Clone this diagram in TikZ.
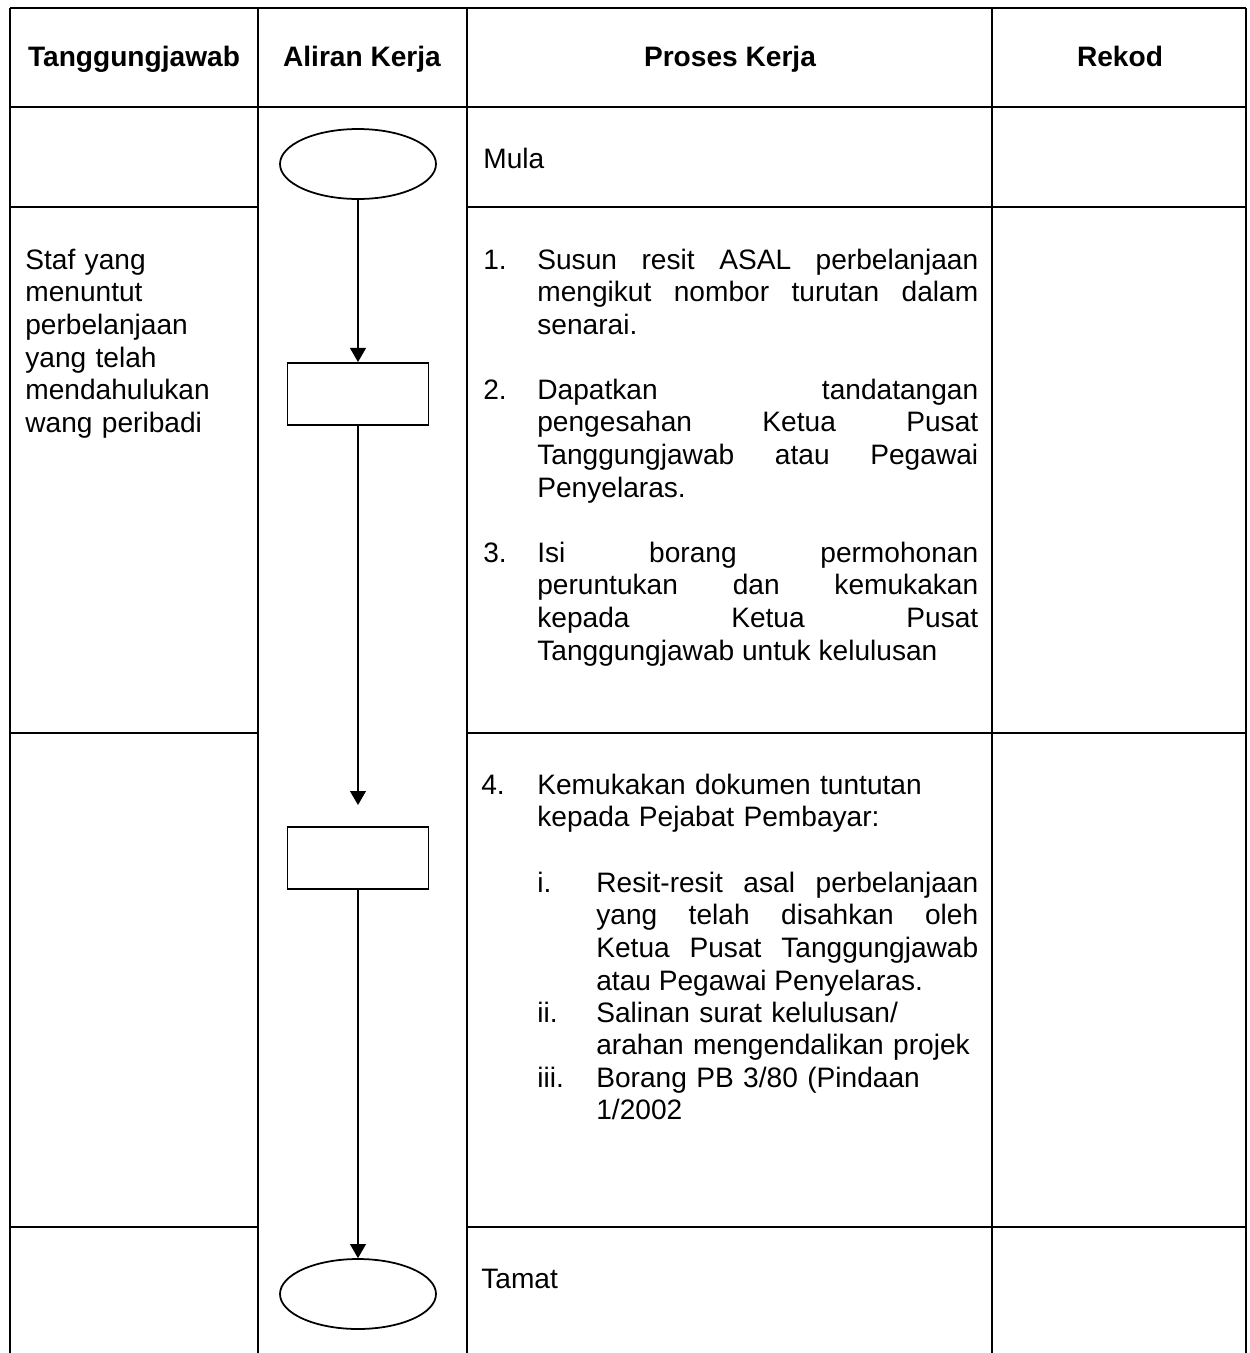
\documentclass[tikz,border=0pt]{standalone}
\usepackage{fontspec}
\setmainfont{Liberation Sans}
\usetikzlibrary{positioning,shapes.geometric,arrows.meta}

\newcommand{\cellfont}{\fontsize{16}{18.6}\selectfont\hyphenpenalty=10000\tolerance=10000\hbadness=10000}

\begin{document}
\begin{tikzpicture}[
    x=0.02cm, y=-0.02cm,
    grid/.style={
        line width=1.1pt
    },
    terminal/.style={
        ellipse,
        draw=black,
        line width=1pt,
        minimum width=3.12cm,
        minimum height=1.4cm,
        inner sep=0pt
    },
    box/.style={
        rectangle,
        draw=black,
        line width=1.1pt,
        minimum width=2.82cm,
        minimum height=1.24cm,
        inner sep=0pt
    },
    flow/.style={
        line width=0.9pt,
        -{Triangle[width=9pt,length=8pt]}
    },
    head/.style={
        font=\cellfont\bfseries,
        anchor=base
    },
    txt/.style={
        font=\cellfont,
        anchor=base west,
        inner sep=0pt
    },
    item/.style={
        txt,
        text width=8.82cm,
        align=justify
    },
    subitem/.style={
        txt,
        text width=7.64cm,
        align=justify
    },
]
    \useasboundingbox (0,0) rectangle (1249,1353);

    % table
    \foreach \x in {10,258,467,992,1246}
        \draw[grid] (\x,8) -- (\x,1353);
    \draw[grid] (10,8) -- (1246,8);
    \draw[grid] (10,107) -- (1246,107);
    \foreach \y in {207,733,1227} {
        \draw[grid] (10,\y) -- (258,\y);
        \draw[grid] (467,\y) -- (1246,\y);
    }

    % headings
    \node (hTj) [head] at (134,66) {Tanggungjawab};
    \node (hAk) [head] at (362,66) {Aliran Kerja};
    \node (hPk) [head] at (730,66) {Proses Kerja};
    \node (hRk) [head] at (1120,66) {Rekod};

    % flow
    \node (mula) [terminal] at (358,164) {};
    \node (box1) [box] at (358,394) {};
    \node (box2) [box] at (358,858) {};
    \node (tamat) [terminal] at (358,1294) {};
    \coordinate [above=0.42cm of box2.north] (tip2);

    \draw[flow] (mula) -- (box1);
    \draw[flow] (box1) -- (tip2);
    \draw[flow] (box2) -- (tamat);

    % responsibility
    \node (staf) [txt, text width=4.6cm, align=left] at (25,269)
        {Staf yang\\ menuntut\\ perbelanjaan\\ yang telah\\ mendahulukan\\ wang peribadi};

    % process
    \node (tMula) [txt] at (483,168) {Mula};

    \node (n1) [txt] at (483,269) {1.};
    \node (p1) [item] at (537,269)
        {Susun resit ASAL perbelanjaan\linebreak mengikut nombor turutan dalam\linebreak senarai.};
    \node (n2) [txt] at (483,399) {2.};
    \node (p2) [item] at (537,399)
        {Dapatkan tandatangan\linebreak pengesahan Ketua Pusat\linebreak Tanggungjawab atau Pegawai\linebreak Penyelaras.};
    \node (n3) [txt] at (483,562) {3.};
    \node (p3) [item] at (537,562)
        {Isi borang permohonan\linebreak peruntukan dan kemukakan\linebreak kepada Ketua Pusat\linebreak Tanggungjawab untuk kelulusan};

    \node (n4) [txt] at (481,794) {4.};
    \node (p4) [item, align=left] at (537,794)
        {Kemukakan dokumen tuntutan\\ kepada Pejabat Pembayar:};
    \node (s1) [txt] at (537,892) {i.};
    \node (q1) [subitem] at (596,892)
        {Resit-resit asal perbelanjaan\linebreak yang telah disahkan oleh\linebreak Ketua Pusat Tanggungjawab\linebreak atau Pegawai Penyelaras.};
    \node (s2) [txt] at (537,1022) {ii.};
    \node (q2) [subitem, align=left] at (596,1022)
        {Salinan surat kelulusan/\\ arahan mengendalikan projek};
    \node (s3) [txt] at (537,1087) {iii.};
    \node (q3) [subitem, align=left] at (596,1087)
        {Borang PB 3/80 (Pindaan\\ 1/2002};

    \node (tTamat) [txt] at (481,1288) {Tamat};
\end{tikzpicture}
\end{document}
